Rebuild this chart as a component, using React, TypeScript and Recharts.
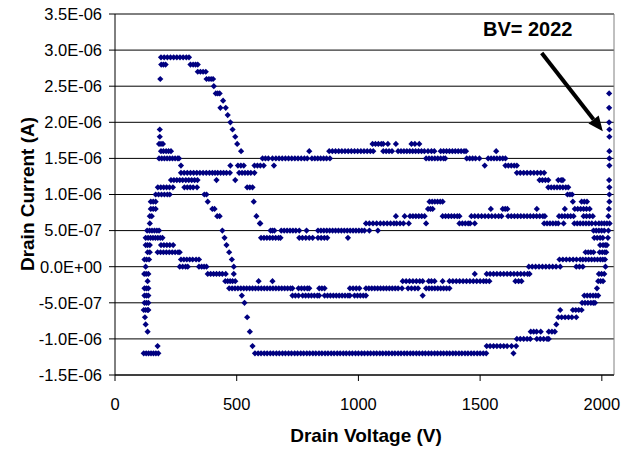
import { ScatterChart, Scatter, XAxis, YAxis, CartesianGrid, ReferenceLine, Label } from "recharts";

// each row: [drain current in uA, ...drain voltages in V measured at that current]
const nearOrigin: number[][] = [
  [2.9, 189, 202, 215, 228, 241, 254, 267, 280, 293, 304],
  [2.8, 190, 199, 208, 310, 321, 331, 340],
  [2.7, 340, 351, 362, 373],
  [2.6, 186, 376, 386, 395, 403],
  [2.5, 406],
  [2.4, 414, 422, 430],
  [2.3, 444],
  [2.2, 433, 455],
  [2.1, 463],
  [2.0, 474],
  [1.9, 184, 483],
  [1.8, 184, 494],
  [1.7, 181, 189, 197, 502],
  [1.6, 189, 199, 210, 220, 230, 518],
  [1.5, 181, 192, 203, 214, 225, 236, 247, 258, 263],
  [1.4, 271, 474, 505, 517, 529, 573, 585, 597],
  [1.3, 271, 284, 297, 310, 323, 336, 349, 362, 375, 388, 400, 411, 422, 434, 446, 458, 472, 510, 522, 534, 546, 558, 573],
  [1.2, 230, 242, 254, 266, 278, 291, 303, 315, 327, 339, 417, 494],
  [1.1, 176, 188, 200, 212, 224, 238, 285, 297, 309, 321, 337, 543, 554, 565],
  [1.0, 167, 179, 191, 203, 215, 225, 367, 376],
  [0.9, 147, 157, 167, 381, 570],
  [0.8, 147, 157, 167, 400, 409],
  [0.7, 143, 151, 420, 430, 581],
  [0.6, 143, 595],
  [0.5, 132, 142, 152, 162, 172, 181, 441],
  [0.4, 126, 136, 146, 156, 166, 176, 186, 195, 450],
  [0.3, 126, 134, 143, 189, 201, 213, 225, 239, 458],
  [0.2, 134, 143, 175, 187, 199, 211, 223, 235, 247, 259, 266, 469],
  [0.1, 121, 130, 140, 271, 283, 295, 307, 319, 333, 345, 480],
  [0.0, 126, 266, 278, 290, 299, 345, 356, 366, 376, 488],
  [-0.1, 120, 128, 137, 381, 393, 405, 417, 429, 441, 455, 488],
  [-0.2, 134, 453, 463, 473, 483, 494, 590],
  [-0.3, 121, 129, 137, 469, 481, 493, 505, 517, 529, 541, 553, 565, 577, 589],
  [-0.4, 121, 129, 137, 521],
  [-0.5, 121, 129, 137, 532],
  [-0.6, 118, 126, 134, 137],
  [-0.7, 123, 543],
  [-0.8, 126],
  [-0.9, 134, 554],
  [-1.1, 175, 565],
  [-1.2, 118, 128, 138, 148, 158, 168, 178, 575, 588, 600],
];

const midSweep: number[][] = [
  [1.7, 1058, 1070, 1082, 1094, 1102, 1121, 1154, 1218, 1232, 1250],
  [1.6, 798, 880, 893, 906, 919, 932, 945, 958, 971, 984, 997, 1010, 1023, 1036, 1049, 1061, 1102, 1114, 1126, 1138,
    1163, 1175, 1187, 1199, 1211, 1223, 1235, 1247, 1259, 1271, 1286, 1300, 1312, 1338, 1350, 1362, 1374, 1386, 1398,
    1410, 1422, 1434, 1442],
  [1.5, 606, 618, 630, 647, 661, 674, 687, 700, 713, 726, 739, 752, 765, 778, 790, 809, 821, 833, 845, 857, 869, 883,
    1278, 1290, 1302, 1314, 1326, 1338, 1350, 1357, 1445, 1457, 1469, 1481, 1497],
  [1.4, 611, 653],
  [0.9, 1292, 1303, 1314, 1325, 1336, 1346],
  [0.8, 1286, 1296, 1305],
  [0.7, 1154, 1190, 1212, 1224, 1236, 1248, 1260, 1272, 1346, 1358, 1370, 1382, 1394, 1406, 1415, 1464, 1478, 1492],
  [0.6, 597, 1031, 1045, 1060, 1075, 1090, 1104, 1118, 1132, 1146, 1157, 1171, 1185, 1207, 1278, 1415, 1427, 1439,
    1451, 1459, 1478],
  [0.5, 639, 647, 655, 683, 695, 707, 719, 731, 743, 757, 787, 834, 846, 858, 870, 882, 894, 906, 918, 930, 942, 954,
    966, 978, 990, 1002, 1014, 1025, 1045, 1080],
  [0.4, 600, 612, 624, 636, 648, 660, 672, 680, 757, 770, 784, 798, 812, 834, 847, 860, 872, 957],
  [-0.1, 1478],
  [-0.2, 647, 1182, 1196, 1210, 1224, 1238, 1252, 1264, 1289, 1300, 1313, 1346, 1374, 1388, 1402, 1416, 1430, 1444,
    1458, 1472, 1486, 1500],
  [-0.3, 601, 613, 625, 637, 649, 661, 673, 685, 697, 709, 721, 729, 754, 766, 778, 790, 798, 839, 850, 861, 965, 978,
    991, 1004, 1031, 1043, 1055, 1067, 1079, 1091, 1103, 1115, 1127, 1139, 1151, 1163, 1179, 1204, 1218, 1232, 1245,
    1278, 1290, 1302, 1314, 1326, 1338, 1350, 1362, 1374],
  [-0.4, 729, 741, 754, 771, 783, 795, 807, 819, 831, 839, 861, 873, 885, 897, 909, 921, 933, 945, 957, 965, 984, 996,
    1008, 1020, 1031, 1264],
  [-1.2, 613, 625, 638, 650, 663, 675, 688, 700, 713, 725, 738, 750, 763, 775, 788, 800, 813, 825, 838, 850, 863, 875,
    888, 900, 913, 925, 938, 950, 963, 975, 988, 1000, 1013, 1025, 1038, 1050, 1063, 1075, 1088, 1100, 1113, 1125,
    1138, 1150, 1163, 1175, 1188, 1200, 1213, 1225, 1238, 1250, 1263, 1275, 1288, 1300, 1313, 1325, 1338, 1350, 1363,
    1375, 1388, 1400, 1413, 1425, 1438, 1450, 1463, 1475, 1488, 1500, 1513, 1525],
];

const nearBreakdown: number[][] = [
  [2.4, 2030],
  [2.2, 2030],
  [2.0, 2030],
  [1.9, 2031],
  [1.8, 2031],
  [1.6, 1566, 2031],
  [1.5, 1533, 1545, 1557, 1569, 1581, 1593, 1604, 2031],
  [1.4, 1519, 1604, 1616, 1628, 1640, 1651, 2031],
  [1.3, 1651, 1665, 1679, 1693, 1707, 1721, 1735, 1749, 1763],
  [1.2, 1744, 1756, 1768, 1780, 1821, 1833, 1840, 2030],
  [1.1, 1780, 1792, 1804, 1816, 1828, 1840, 1852, 1862, 2031],
  [1.0, 1859, 1869, 1878, 2031],
  [0.9, 1881, 1917, 1928, 1939, 2031],
  [0.8, 1544, 1593, 1603, 1612, 1733, 1848, 1889, 1901, 1913, 1925, 1937, 1950, 2029],
  [0.7, 1506, 1520, 1534, 1548, 1562, 1576, 1588, 1615, 1628, 1641, 1654, 1667, 1680, 1693, 1706, 1719, 1732, 1745,
    1758, 1766, 1824, 1836, 1848, 1860, 1872, 1884, 1925, 1937, 1950, 1963, 2027],
  [0.6, 1763, 1775, 1787, 1799, 1811, 1821, 1843, 1887, 1899, 1911, 1923, 1935, 1947, 1959, 1974, 1988, 1999, 2010,
    2021, 2032],
  [0.5, 1966, 1977, 1988, 1999, 2010, 2027],
  [0.4, 1969, 1981, 1993, 2004, 2025],
  [0.3, 1993, 2005, 2014, 2021],
  [0.2, 1933, 1944, 1955, 1966, 1991, 2002, 2012, 2018],
  [0.1, 1826, 1840, 1854, 1868, 1882, 1896, 1911, 1922, 1934, 1946, 1958, 1970, 1982, 1994, 2004, 2013],
  [0.0, 1700, 1714, 1728, 1742, 1756, 1770, 1784, 1798, 1812, 1829, 1895, 1908, 1922, 2015],
  [-0.1, 1527, 1541, 1555, 1569, 1583, 1597, 1611, 1625, 1639, 1653, 1667, 1681, 1695, 1703, 1988, 1999, 2010],
  [-0.2, 1514, 1525, 1538, 1645, 1658, 1670, 1985, 1995, 2005],
  [-0.3, 1980],
  [-0.4, 1928, 1940, 1952, 1964, 1975, 1985],
  [-0.5, 1919, 1931, 1943, 1955, 1965, 1972],
  [-0.6, 1829, 1881, 1893, 1905, 1917],
  [-0.7, 1821, 1835, 1849, 1863, 1877, 1895],
  [-0.8, 1813],
  [-0.9, 1708, 1720, 1732, 1749, 1782, 1795, 1807],
  [-1.0, 1651, 1665, 1679, 1693, 1706, 1733, 1747, 1761, 1775, 1782],
  [-1.1, 1527, 1541, 1555, 1569, 1583, 1597, 1611, 1629, 1648],
  [-1.2, 1637],
];

const voltTicks = [0, 500, 1000, 1500, 2000];
const currentTicks = [-1.5, -1, -0.5, 0, 0.5, 1, 1.5, 2, 2.5, 3, 3.5];

const FONT = "'Liberation Sans', Arial, sans-serif";

const points = [...nearOrigin, ...midSweep, ...nearBreakdown].flatMap(([ua, ...volts]) =>
  volts.map(v => ({ v, ua }))
);

// 3.5 -> "3.5E-06"
const fmtAmps = (ua: number) => {
  const [m, e] = (ua * 1e-6).toExponential(1).split("e");
  return `${m}E${e[0]}${e.slice(1).padStart(2, "0")}`;
};

const Diamond = (props: any) => {
  const { cx, cy } = props;
  const r = 3.1;
  return <path d={`M${cx},${cy - r}L${cx + r},${cy}L${cx},${cy + r}L${cx - r},${cy}Z`} fill='#000080' />;
};

const BvArrow = (props: any) => {
  const { x1, y1, x2, y2 } = props;
  const len = Math.hypot(x2 - x1, y2 - y1);
  const ux = (x2 - x1) / len;
  const uy = (y2 - y1) / len;
  const head = 15;
  const half = 6.5;
  const bx = x2 - ux * head;
  const by = y2 - uy * head;
  return (
    <g>
      <line x1={x1} y1={y1} x2={bx} y2={by} stroke='#000' strokeWidth={4} />
      <polygon
        points={`${x2},${y2} ${bx - uy * half},${by + ux * half} ${bx + uy * half},${by - ux * half}`}
        fill='#000'
      />
      <text x={x1 - 14} y={y1 - 17} textAnchor='middle' fontSize={20} fontWeight='bold' fontFamily={FONT}>
        BV= 2022
      </text>
    </g>
  );
};

export default function App() {
  return (
    <div style={{ position: "absolute", left: 0, top: 0, background: "#fff" }}>
      <ScatterChart width={625} height={450} margin={{ top: 14, right: 11, bottom: 0, left: 0 }}>
        <CartesianGrid vertical={false} stroke='#000' />
        <XAxis
          type='number'
          dataKey='v'
          domain={[0, 2050]}
          ticks={voltTicks}
          height={75}
          stroke='#000'
          tickSize={6}
          tickMargin={17}
          tick={{ fill: "#000", fontSize: 16.5, fontFamily: FONT }}
          label={
            <Label
              content={() => (
                <text x={366} y={442} textAnchor='middle' fontSize={19} fontWeight='bold' fontFamily={FONT}>
                  Drain Voltage (V)
                </text>
              )}
            />
          }
        />
        <YAxis
          type='number'
          dataKey='ua'
          domain={[-1.5, 3.5]}
          ticks={currentTicks}
          width={115}
          stroke='#000'
          tickSize={6}
          tickMargin={7}
          tickFormatter={fmtAmps}
          tick={{ fill: "#000", fontSize: 16.5, fontFamily: FONT }}
          label={
            <Label
              content={() => (
                <text
                  transform='translate(34,194) rotate(-90)'
                  textAnchor='middle'
                  fontSize={19}
                  fontWeight='bold'
                  fontFamily={FONT}
                >
                  Drain Current (A)
                </text>
              )}
            />
          }
        />
        <ReferenceLine y={3.5} stroke='#808080' />
        <ReferenceLine x={2050} stroke='#808080' />
        <Scatter data={points} shape={Diamond} isAnimationActive={false} />
        <ReferenceLine
          segment={[{ x: 1753, y: 2.96 }, { x: 2004, y: 1.875 }]}
          shape={BvArrow}
        />
      </ScatterChart>
    </div>
  );
}
